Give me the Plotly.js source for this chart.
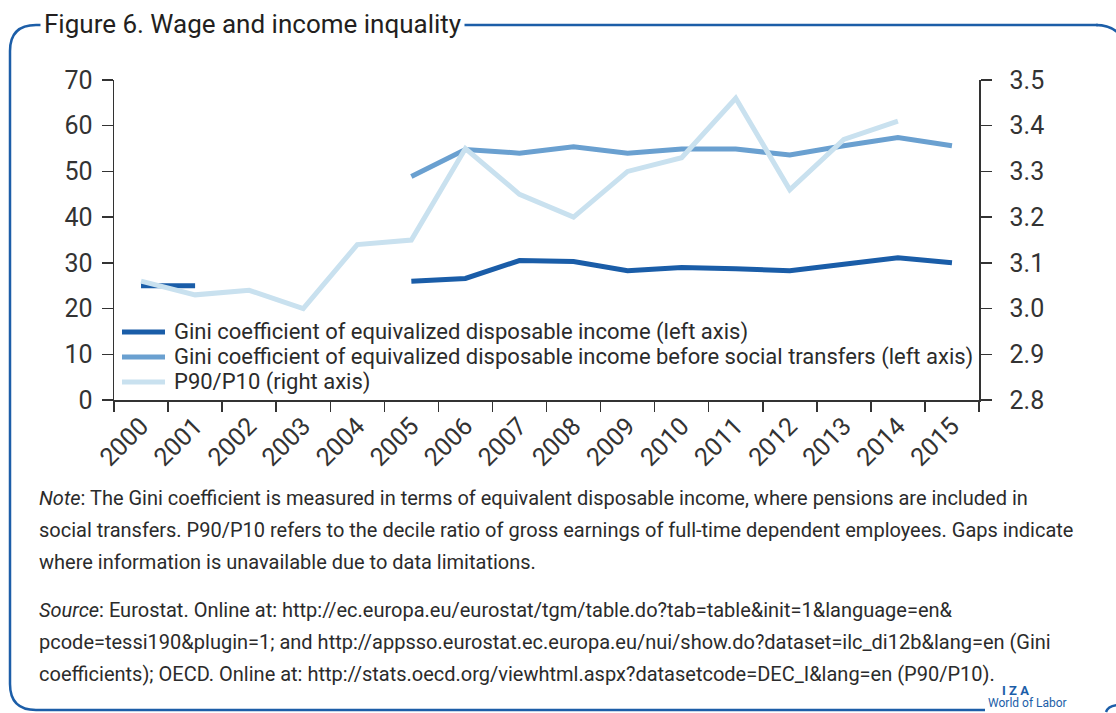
<!DOCTYPE html>
<html>
<head>
<meta charset="utf-8">
<script src="https://cdn.plot.ly/plotly-3.0.1.min.js"></script>
<style>
  html, body { margin: 0; padding: 0; background: #fff; overflow: hidden; }
  #chart { width: 1116px; height: 713px; }
</style>
</head>
<body>
<div id="chart"></div>
<script>
// ---- data ----
const years = ["2000","2001","2002","2003","2004","2005","2006","2007","2008","2009","2010","2011","2012","2013","2014","2015"];
const giniDisposable = [25.0, 25.0, null, null, null, 26.0, 26.6, 30.5, 30.3, 28.3, 29.0, 28.7, 28.3, 29.7, 31.1, 30.0];
const giniBeforeTransfers = [null, null, null, null, null, 48.9, 54.8, 54.0, 55.4, 54.0, 54.9, 54.9, 53.6, 55.6, 57.4, 55.6];
const p90p10 = [3.06, 3.03, 3.04, 3.00, 3.14, 3.15, 3.35, 3.25, 3.20, 3.30, 3.33, 3.46, 3.26, 3.37, 3.41, null];
const seriesNames = [
  "Gini coefficient of equivalized disposable income (left axis)",
  "Gini coefficient of equivalized disposable income before social transfers (left axis)",
  "P90/P10 (right axis)"
];
const seriesColors = ["#1a5da8", "#6aa0d0", "#c9e1ef"];
const titleText = "Figure 6. Wage and income inquality";
const noteLines = [
  "<i>Note</i>: The Gini coefficient is measured in terms of equivalent disposable income, where pensions are included in",
  "social transfers. P90/P10 refers to the decile ratio of gross earnings of full-time dependent employees. Gaps indicate",
  "where information is unavailable due to data limitations."
];
const sourceLines = [
  "<i>Source</i>: Eurostat. Online at: http://ec.europa.eu/eurostat/tgm/table.do?tab=table&init=1&language=en&",
  "pcode=tessi190&plugin=1; and http://appsso.eurostat.ec.europa.eu/nui/show.do?dataset=ilc_di12b&lang=en (Gini",
  "coefficients); OECD. Online at: http://stats.oecd.org/viewhtml.aspx?datasetcode=DEC_I&lang=en (P90/P10)."
];

// ---- layout helpers (pixel -> paper) ----
const W = 1116, H = 713;
const M = { l: 114, r: 137, t: 80, b: 313 };
const PW = W - M.l - M.r, PH = H - M.t - M.b;
const px = x => (x - M.l) / PW;
const py = y => (H - M.b - y) / PH;

const FONT = "Roboto, 'Liberation Sans', Arial, sans-serif";
const TXT = "#2b2b2b";
const FRAME = "#1c5ea8";

const traces = [
  { x: years, y: giniDisposable, name: seriesNames[0], type: "scatter", mode: "lines",
    line: { color: seriesColors[0], width: 5 }, connectgaps: false, yaxis: "y" },
  { x: years, y: giniBeforeTransfers, name: seriesNames[1], type: "scatter", mode: "lines",
    line: { color: seriesColors[1], width: 5 }, connectgaps: false, yaxis: "y" },
  { x: years, y: p90p10, name: seriesNames[2], type: "scatter", mode: "lines",
    line: { color: seriesColors[2], width: 5 }, connectgaps: false, yaxis: "y2" }
];

// frame path (rounded box, in paper coords)
function P(x, y) { return px(x).toFixed(5) + "," + py(y).toFixed(5); }
const framePath =
  "M" + P(1098, 25) + " L" + P(36, 25) + " Q" + P(10, 25) + " " + P(10, 51) +
  " L" + P(10, 684) + " Q" + P(10, 710) + " " + P(36, 710) + " L" + P(985, 710);
const topRight = "M" + P(1096, 25) + " Q" + P(1110, 25) + " " + P(1118, 33);
const bottomRight = "M" + P(1106, 712) + " Q" + P(1108, 706) + " " + P(1118, 705);

const shapes = [
  { type: "path", xref: "paper", yref: "paper", path: framePath, line: { color: FRAME, width: 2.5 }, layer: "below" },
  { type: "path", xref: "paper", yref: "paper", path: topRight, line: { color: FRAME, width: 2.5 }, layer: "below" },
  { type: "path", xref: "paper", yref: "paper", path: bottomRight, line: { color: FRAME, width: 2.5 }, layer: "below" }
];

const annotations = [];
annotations.push({ xref: "paper", yref: "paper", x: px(40), y: py(24), xanchor: "left", yanchor: "middle",
  text: titleText, showarrow: false, bgcolor: "#ffffff", borderpad: 3,
  font: { family: FONT, size: 26, color: "#231f20" } });

// custom legend (entries drawn from the trace names and colours)
const legY = [332, 357, 382];
traces.forEach((t, i) => {
  shapes.push({ type: "line", xref: "paper", yref: "paper", x0: px(122), x1: px(165), y0: py(legY[i]), y1: py(legY[i]),
    line: { color: t.line.color, width: 5 }, layer: "above" });
  annotations.push({ xref: "paper", yref: "paper", x: px(172), y: py(legY[i]), xanchor: "left", yanchor: "middle",
    text: t.name, showarrow: false, font: { family: FONT, size: 22, color: TXT } });
});

const noteY = [498, 530, 562];
noteLines.forEach((t, i) => annotations.push({ xref: "paper", yref: "paper", x: px(37), y: py(noteY[i]),
  xanchor: "left", yanchor: "middle", text: t, showarrow: false, font: { family: FONT, size: 20, color: TXT } }));
const srcY = [610, 642, 674];
sourceLines.forEach((t, i) => annotations.push({ xref: "paper", yref: "paper", x: px(37), y: py(srcY[i]),
  xanchor: "left", yanchor: "middle", text: t, showarrow: false, font: { family: FONT, size: 20, color: TXT } }));
annotations.push({ xref: "paper", yref: "paper", x: px(1015), y: py(690), xanchor: "center", yanchor: "middle",
  text: "<b>I Z A</b>", showarrow: false, font: { family: FONT, size: 13, color: FRAME } });
annotations.push({ xref: "paper", yref: "paper", x: px(986), y: py(703), xanchor: "left", yanchor: "middle",
  text: "World of Labor", showarrow: false, font: { family: FONT, size: 12, color: FRAME } });

const layout = {
  width: W, height: H,
  margin: M,
  paper_bgcolor: "#ffffff", plot_bgcolor: "#ffffff",
  font: { family: FONT, color: TXT },
  showlegend: false,
  xaxis: { type: "category", range: [-0.5, 15.5], tickson: "boundaries", ticks: "outside", ticklen: 10,
    tickwidth: 1.5, tickcolor: "#333", showline: true, linecolor: "#333", linewidth: 1.5, showgrid: false,
    zeroline: false, tickangle: -45, tickfont: { family: FONT, size: 25, color: "#333" } },
  yaxis: { range: [0, 70], dtick: 10, ticks: "outside", ticklen: 11, tickwidth: 1.5, tickcolor: "#333",
    showline: true, linecolor: "#333", linewidth: 1.5, showgrid: false, zeroline: false,
    ticklabelstandoff: 4, tickfont: { family: FONT, size: 25, color: "#333" } },
  yaxis2: { range: [2.8, 3.5], dtick: 0.1, tickformat: ".1f", overlaying: "y", side: "right",
    ticks: "outside", ticklen: 11, tickwidth: 1.5, tickcolor: "#333", showline: true, linecolor: "#333",
    linewidth: 1.5, showgrid: false, zeroline: false, ticklabelstandoff: 13,
    tickfont: { family: FONT, size: 25, color: "#333" } },
  shapes: shapes,
  annotations: annotations
};

Plotly.newPlot("chart", traces, layout, { displayModeBar: false, staticPlot: true });
</script>
</body>
</html>
